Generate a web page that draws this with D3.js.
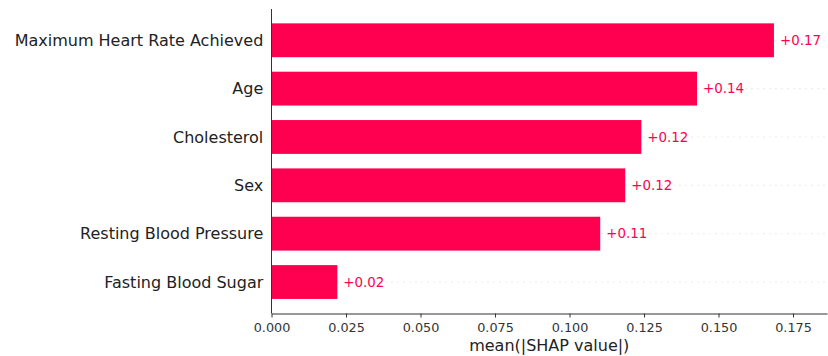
<!DOCTYPE html>
<html><head><meta charset="utf-8">
<script src="https://cdn.jsdelivr.net/npm/d3@7"></script>
<style>body{margin:0;background:#fff}svg{display:block}text{font-family:"DejaVu Sans",sans-serif}</style>
</head><body><svg id="c" width="828" height="356"></svg>
<script>
const features = ["Maximum Heart Rate Achieved","Age","Cholesterol","Sex","Resting Blood Pressure","Fasting Blood Sugar"];
const values = [0.1686, 0.1428, 0.1241, 0.1187, 0.1103, 0.0221];
const valueLabels = ["+0.17","+0.14","+0.12","+0.12","+0.11","+0.02"];
const xTicks = [0, 0.025, 0.05, 0.075, 0.1, 0.125, 0.15, 0.175];
const xTitle = "mean(|SHAP value|)";

(function(){
const svg = d3.select("#c");
const mLeft = 271.5, mRight = 827, mTop = 9, mBottom = 313.5;
const x = d3.scaleLinear().domain([0, 0.1864]).range([mLeft, mRight]);
const y = d3.scaleBand().domain(features).range([16.1, 306.2]).paddingInner(0.3).paddingOuter(0.15);
const red = "#ff0051";

svg.append("g").selectAll("line").data(features).join("line")
  .attr("x1", mLeft).attr("x2", mRight)
  .attr("y1", d => y(d) + y.bandwidth()/2).attr("y2", d => y(d) + y.bandwidth()/2)
  .attr("stroke", "#cccccc").attr("stroke-width", 0.8).attr("stroke-dasharray", "1,5");

svg.append("g").selectAll("rect").data(features).join("rect")
  .attr("x", x(0)).attr("y", d => y(d))
  .attr("width", (d,i) => x(values[i]) - x(0)).attr("height", y.bandwidth())
  .attr("fill", red);

svg.append("g").selectAll("text").data(features).join("text")
  .attr("x", (d,i) => x(values[i]) + 6).attr("y", d => y(d) + y.bandwidth()/2)
  .attr("dy", "0.35em").attr("fill", red).attr("font-size", 13.4)
  .text((d,i) => valueLabels[i]);

svg.append("g").selectAll("text").data(features).join("text")
  .attr("x", mLeft - 8.2).attr("y", d => y(d) + y.bandwidth()/2)
  .attr("dy", "0.35em").attr("text-anchor", "end").attr("fill", "#222").attr("font-size", 16)
  .text(d => d);

svg.append("line").attr("x1", mLeft).attr("x2", mLeft).attr("y1", mTop).attr("y2", mBottom)
  .attr("stroke", "#333").attr("stroke-width", 1);

const xa = svg.append("g").attr("transform", `translate(0,${mBottom})`)
  .call(d3.axisBottom(x).tickValues(xTicks).tickFormat(d3.format(".3f")).tickSize(4).tickPadding(5.5).tickSizeOuter(0));
xa.select(".domain").attr("stroke", "#333");
xa.selectAll(".tick line").attr("stroke", "#333");
xa.selectAll(".tick text").attr("fill", "#333").attr("font-size", 12.8).attr("font-family", "DejaVu Sans");

svg.append("text").attr("x", (mLeft + mRight)/2).attr("y", 350.5).attr("text-anchor", "middle")
  .attr("fill", "#222").attr("font-size", 16).text(xTitle);
})();
</script></body></html>
